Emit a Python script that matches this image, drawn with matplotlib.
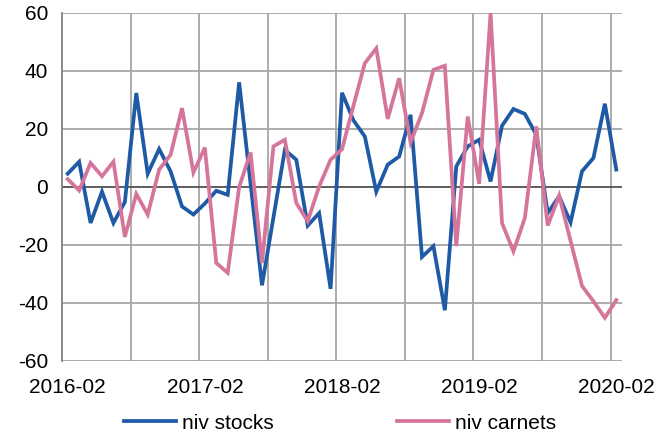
import matplotlib
matplotlib.use("Agg")
import matplotlib.pyplot as plt
import numpy as np

months = [f"{y}-{m:02d}" for y in range(2016, 2021) for m in range(1, 13)]
months = months[1:50]  # 2016-02 .. 2020-02

niv_stocks = [4.6, 8.7, -12.4, -1.6, -12.4, -5.2, 32.4, 4.6, 13.1, 5.4, -6.7, -9.5,
              -5.7, -1.3, -2.7, 36.1, 1.1, -33.9, -10.5, 12.8, 9.4, -13.3, -9.0, -35.1,
              32.5, 23.0, 17.4, -1.6, 7.7, 10.5, 24.9, -24.1, -20.4, -42.5, 7.1, 14.0,
              16.3, 1.9, 21.1, 26.9, 25.2, 18.0, -9.0, -3.2, -12.2, 5.4, 10.0, 28.7, 6.0]

niv_carnets = [2.7, -1.2, 8.3, 3.7, 8.7, -17.2, -2.4, -9.5, 6.0, 11.1, 27.2, 5.0,
               13.6, -26.2, -29.6, 0.0, 11.9, -26.2, 14.0, 16.3, -5.5, -11.8, 0.2, 9.4,
               13.0, 28.0, 42.7, 47.8, 23.5, 37.5, 15.4, 25.5, 40.4, 41.8, -20.4, 24.3,
               1.1, 60.0, -12.4, -22.2, -10.7, 20.9, -13.3, -3.0, -18.6, -34.1, -39.4, -45.1, -39.0]

tick_labels = ["2016-02", "2017-02", "2018-02", "2019-02", "2020-02"]
y_ticks = [-60, -40, -20, 0, 20, 40, 60]

plt.rcParams['font.family'] = ['Liberation Sans', 'DejaVu Sans']

fig = plt.figure(figsize=(6.69, 4.32), dpi=100)
ax = fig.add_axes([62/669, 1-361/432, (622-62)/669, (361-13)/432])

x = np.arange(len(months))
ax.set_xlim(-0.5, len(months) - 0.5)
ax.set_ylim(-60, 60)

grid_c = "#A6A6A6"
for yv in y_ticks:
    if yv == 0:
        continue
    ax.axhline(yv, color=grid_c, lw=1.3, zorder=1)
for k in range(1, 9):
    ax.axvline(6 * k - 0.5, color=grid_c, lw=1.3, zorder=1)
ax.axhline(0, color="#505050", lw=1.3, zorder=2)

l1, = ax.plot(x, niv_stocks, color="#1F5AA6", lw=2.7, zorder=3, solid_joinstyle="miter", label="niv stocks")
l2, = ax.plot(x, niv_carnets, color="#D6759B", lw=2.7, zorder=3, solid_joinstyle="miter", label="niv carnets")

for s in ["top", "right", "bottom"]:
    ax.spines[s].set_visible(False)
ax.spines["left"].set_color("#808080")
ax.spines["left"].set_linewidth(1.3)

ax.set_yticks(y_ticks)
ax.set_yticklabels([str(v) for v in y_ticks])
idx = [months.index(t) for t in tick_labels]
ax.set_xticks(idx)
ax.set_xticklabels(tick_labels)
ax.tick_params(axis="both", length=0, labelsize=15, colors="black")
ax.tick_params(axis="y", pad=10)
ax.tick_params(axis="x", pad=12)

fig.legend(handles=[l1, l2], loc="lower center", bbox_to_anchor=(0.508, -0.045), ncol=2,
           frameon=False, fontsize=15, handlelength=2.5, handletextpad=0.3,
           columnspacing=5.9)

fig.savefig("out.png", dpi=100)
